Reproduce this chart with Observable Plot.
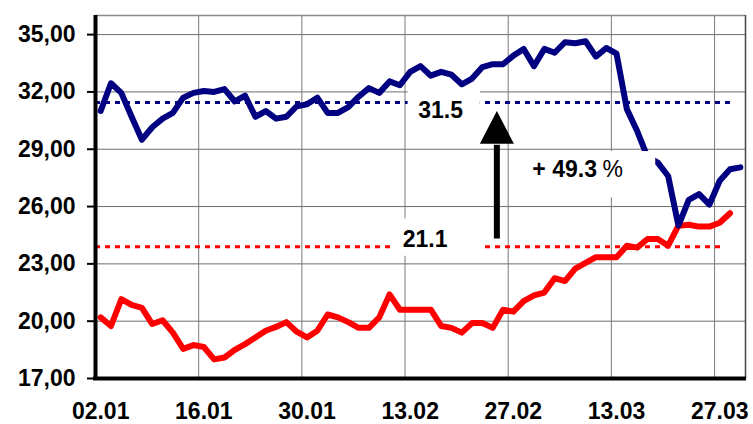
<!DOCTYPE html>
<html><head><meta charset="utf-8">
<script src="https://cdn.jsdelivr.net/npm/d3@7"></script>
<script src="https://cdn.jsdelivr.net/npm/@observablehq/plot@0.6"></script>
<style>body{margin:0;background:#fff} svg{display:block}</style>
</head><body><div id="chart"></div>
<script>
// Trading days (categories)
const dates = [
  "02.01","03.01","04.01","05.01","06.01","09.01","10.01","11.01","12.01","13.01",
  "16.01","17.01","18.01","19.01","20.01","23.01","24.01","25.01","26.01","27.01",
  "30.01","31.01","01.02","02.02","03.02","06.02","07.02","08.02","09.02","10.02",
  "13.02","14.02","15.02","16.02","17.02","20.02","21.02","22.02","23.02","24.02",
  "27.02","28.02","01.03","02.03","03.03","06.03","07.03","08.03","09.03","10.03",
  "13.03","14.03","15.03","16.03","17.03","20.03","21.03","22.03","23.03","24.03",
  "27.03","28.03","29.03"
];
const seriesBlue = [
  31.0, 32.45, 31.95, 30.7, 29.5, 30.15, 30.6, 30.9, 31.7, 31.95,
  32.05, 32.0, 32.15, 31.5, 31.8, 30.7, 31.0, 30.6, 30.7, 31.25,
  31.35, 31.7, 30.9, 30.9, 31.2, 31.75, 32.2, 31.95, 32.55, 32.35,
  33.05, 33.35, 32.85, 33.05, 32.9, 32.4, 32.7, 33.3, 33.45, 33.45,
  33.9, 34.25, 33.35, 34.25, 34.05, 34.6, 34.55, 34.65, 33.85, 34.3,
  34.0, 31.1, 29.95, 28.6, 28.3, 27.6, 25.0, 26.35, 26.65, 26.1,
  27.35, 27.95, 28.05
];
const seriesRed = [
  20.2, 19.75, 21.15, 20.85, 20.7, 19.85, 20.05, 19.4, 18.55, 18.75,
  18.65, 18.0, 18.1, 18.5, 18.8, 19.15, 19.5, 19.7, 19.95, 19.45,
  19.15, 19.5, 20.35, 20.2, 19.95, 19.65, 19.65, 20.2, 21.4, 20.6,
  20.6, 20.6, 20.6, 19.75, 19.65, 19.4, 19.9, 19.9, 19.65, 20.6,
  20.5, 21.05, 21.35, 21.5, 22.25, 22.1, 22.75, 23.05, 23.35, 23.35,
  23.35, 23.95, 23.85, 24.3, 24.3, 23.95, 25.0, 25.05, 24.95, 24.95,
  25.15, 25.65
];
const yTicks = [17, 20, 23, 26, 29, 32, 35];
const xTickLabels = ["02.01","16.01","30.01","13.02","27.02","13.03","27.03"];
const avgBlue = 31.45, avgRed = 23.9;
const labelBlue = "31.5", labelRed = "21.1";
const changeLabel = "+ 49.3", changeUnit = "%";

const BLUE = "#000080", RED = "#ff0000";
const n = dates.length;
const blueData = seriesBlue.map((v, i) => ({x: i + 0.5, y: v}));
const redData = seriesRed.map((v, i) => ({x: i + 0.5, y: v}));
const xTickIdx = xTickLabels.map(l => dates.indexOf(l));

// annotation placement (in scale units)
const avgRules = [
  {y: avgBlue, x1: 0, x2: 61.7, c: BLUE},
  {y: avgRed, x1: 0, x2: 61.0, c: RED}
];
const boxes = [
  {x1: 30.3, x2: 37.3, y1: 30.05, y2: 32.1},
  {x1: 29.0, x2: 37.45, y1: 23.4, y2: 25.35},
  {x1: 40.45, x2: 54.3, y1: 26.45, y2: 28.88}
];
const labels = [
  {x: 33.45, y: 31.0, t: labelBlue},
  {x: 31.95, y: 24.27, t: labelRed}
];
const arrow = {x: 38.95, base: 24.3, tip: 30.98, head: 29.26, half: 1.65};

function arrowMark(index, scales) {
  const x = scales.x(arrow.x), yb = scales.y(arrow.base), yt = scales.y(arrow.tip), yh = scales.y(arrow.head);
  const hw = scales.x(arrow.x + arrow.half) - x;
  const g = d3.create("svg:g");
  g.append("line").attr("x1", x).attr("x2", x).attr("y1", yb).attr("y2", yh + 1)
    .attr("stroke", "black").attr("stroke-width", 6);
  g.append("path").attr("d", `M${x - hw},${yh}L${x},${yt}L${x + hw},${yh}Z`).attr("fill", "black");
  return g.node();
}

const chart = Plot.plot({
  width: 753, height: 424,
  marginLeft: 95, marginRight: 8, marginTop: 15, marginBottom: 46,
  x: {domain: [0, n], axis: null},
  y: {domain: [17, 36], axis: null},
  style: {fontFamily: "'Liberation Sans', Arial, sans-serif", fontWeight: "bold", background: "white", color: "black"},
  marks: [
    Plot.ruleY(yTicks, {stroke: "#6e6e6e", strokeWidth: 1}),
    Plot.ruleX(xTickIdx, {stroke: "#7a7a7a", strokeWidth: 1}),
    Plot.ruleY([36], {stroke: "#8a8a8a", strokeWidth: 1.5}),
    Plot.ruleX([n], {stroke: "#444", strokeWidth: 1.5}),
    Plot.ruleY(avgRules, {y: "y", x1: "x1", x2: "x2", stroke: d => d.c, strokeWidth: 3, strokeDasharray: "5,5"}),
    Plot.line(redData, {x: "x", y: "y", stroke: RED, strokeWidth: 6, strokeLinejoin: "round", strokeLinecap: "round"}),
    Plot.line(blueData, {x: "x", y: "y", stroke: BLUE, strokeWidth: 6, strokeLinejoin: "round", strokeLinecap: "round"}),
    Plot.rect(boxes, {x1: "x1", x2: "x2", y1: "y1", y2: "y2", fill: "white"}),
    Plot.text(labels, {x: "x", y: "y", text: "t", fontSize: 23, fontWeight: "bold", textAnchor: "middle", fill: "black"}),
    Plot.text([{x: 48.6, y: 27.92}], {x: "x", y: "y", text: () => changeLabel, fontSize: 23, fontWeight: "bold", textAnchor: "end", fill: "black"}),
    Plot.text([{x: 49.15, y: 27.92}], {x: "x", y: "y", text: () => changeUnit, fontSize: 23, fontWeight: "normal", textAnchor: "start", fill: "black"}),
    arrowMark,
    Plot.ruleX([0], {y1: 16.95, y2: 36, stroke: "black", strokeWidth: 4}),
    Plot.ruleY([17], {x1: -0.2, x2: n + 0.1, stroke: "black", strokeWidth: 4}),
    Plot.axisY({ticks: yTicks, tickSize: 8, tickPadding: 12, strokeWidth: 2, stroke: "black",
      tickFormat: d => d.toFixed(2).replace(".", ","), fontSize: 23, fontWeight: "bold", label: null}),
    Plot.axisX({ticks: xTickIdx.map(i => i + 0.5), tickSize: 0, tickPadding: 24,
      tickFormat: d => dates[Math.round(d - 0.5)], fontSize: 23, fontWeight: "bold", label: null})
  ]
});
document.getElementById("chart").appendChild(chart);
</script>
</body></html>
